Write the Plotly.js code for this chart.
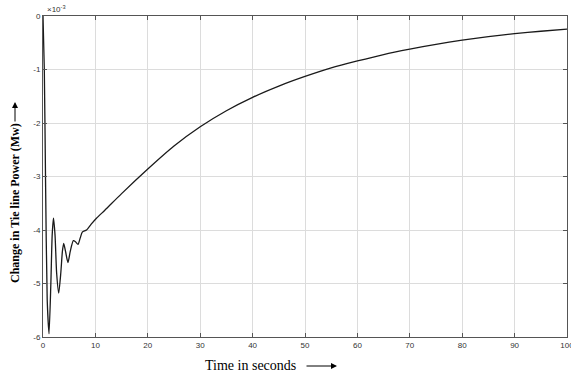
<!DOCTYPE html>
<html>
<head>
<meta charset="utf-8">
<script src="https://cdn.plot.ly/plotly-3.0.1.min.js"></script>
<style>html,body{margin:0;padding:0;background:#fff;}#chart{width:571px;height:374px;}</style>
</head>
<body>
<div id="chart"></div>
<script>
// Time (s)
const timeSec = [0, 0.25, 0.5, 0.8, 1.15, 1.5, 1.75, 2.0, 2.3, 2.6, 3.0, 3.4, 3.7, 3.95, 4.3, 4.77, 5.2, 5.79, 6.2, 6.68, 7.1, 7.5, 8.3, 9.2, 10.2, 11.8, 15, 20, 25, 30, 35, 40, 45, 50, 55, 60, 65, 70, 75, 80, 85, 90, 95, 100];
// Change in tie line power (x 10^-3 MW)
const tiePower = [0, -1.0, -3.2, -5.3, -5.94, -5.0, -4.1, -3.78, -4.1, -4.8, -5.18, -4.8, -4.4, -4.25, -4.4, -4.61, -4.4, -4.20, -4.22, -4.27, -4.15, -4.04, -4.0, -3.89, -3.78, -3.63, -3.32, -2.86, -2.43, -2.07, -1.77, -1.52, -1.31, -1.13, -0.97, -0.84, -0.72, -0.62, -0.53, -0.45, -0.385, -0.33, -0.285, -0.245];
const xTicks = [0, 10, 20, 30, 40, 50, 60, 70, 80, 90, 100];
const yTicks = [0, -1, -2, -3, -4, -5, -6];

const trace = {
  x: timeSec, y: tiePower, type: 'scatter', mode: 'lines',
  line: {color: '#1a1a1a', width: 1.3, shape: 'spline', smoothing: 0.6},
  hoverinfo: 'skip'
};
const tickFont = {family: 'Liberation Sans, Arial, sans-serif', size: 8, color: '#333'};
const layout = {
  width: 571, height: 374,
  margin: {l: 43, r: 4, t: 16, b: 37},
  paper_bgcolor: '#fff', plot_bgcolor: '#fff',
  showlegend: false,
  xaxis: {
    range: [0, 100], tickvals: xTicks, ticktext: xTicks.map(String),
    showgrid: true, gridcolor: '#dcdcdc', gridwidth: 1,
    zeroline: false, showline: true, linecolor: '#555', linewidth: 1, mirror: 'ticks',
    ticks: 'inside', ticklen: 4, tickcolor: '#555', tickfont: tickFont,
    ticklabeloverflow: 'allow'
  },
  yaxis: {
    range: [-6, 0], tickvals: yTicks, ticktext: yTicks.map(String),
    showgrid: true, gridcolor: '#dcdcdc', gridwidth: 1,
    zeroline: false, showline: true, linecolor: '#555', linewidth: 1, mirror: 'ticks',
    ticks: 'inside', ticklen: 4, tickcolor: '#555', tickfont: tickFont
  },
  annotations: [
    {xref: 'paper', yref: 'paper', x: 0, y: 1, xanchor: 'left', yanchor: 'bottom', xshift: 2,
     text: '×10<sup>-3</sup>', showarrow: false, font: {family: 'Liberation Sans, Arial, sans-serif', size: 8, color: '#333'}},
    {xref: 'paper', yref: 'paper', x: (250 - 43) / 524, y: (337 - 366) / 321, yanchor: 'middle', xanchor: 'center',
     text: 'Time in seconds', showarrow: false, font: {family: 'Liberation Serif, Times New Roman, serif', size: 14, color: '#000'}},
    {xref: 'paper', yref: 'paper', x: (337 - 43) / 524, y: (337 - 366) / 321, ax: -32, ay: 0,
     text: '', showarrow: true, arrowhead: 2, arrowsize: 1.2, arrowwidth: 1, arrowcolor: '#000'},
    {xref: 'paper', yref: 'paper', x: (15 - 43) / 524, y: (337 - 203) / 321, xanchor: 'center', yanchor: 'middle',
     text: '<b>Change in Tie line Power (Mw)</b>', textangle: -90, showarrow: false,
     font: {family: 'Liberation Serif, Times New Roman, serif', size: 12, color: '#000'}},
    {xref: 'paper', yref: 'paper', x: (15 - 43) / 524, y: (337 - 102) / 321, ax: 0, ay: 21,
     text: '', showarrow: true, arrowhead: 2, arrowsize: 1.2, arrowwidth: 1, arrowcolor: '#000'}
  ]
};
Plotly.newPlot('chart', [trace], layout, {staticPlot: true, displayModeBar: false});
</script>
</body>
</html>
